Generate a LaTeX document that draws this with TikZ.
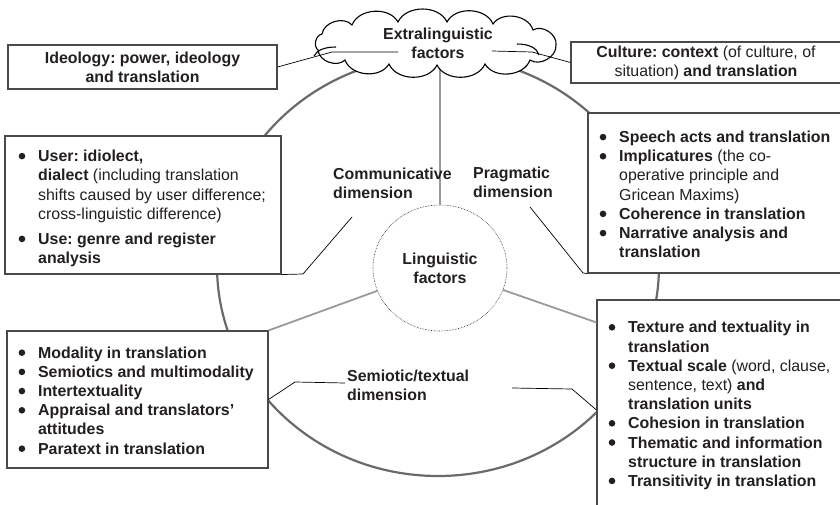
\documentclass[tikz,border=0pt]{standalone}
\usepackage{fontspec}
\setmainfont{Liberation Sans}
\usetikzlibrary{shapes.geometric}

\definecolor{txt}{HTML}{231F20}
\definecolor{boxline}{HTML}{4A4A4A}
\definecolor{arcgray}{HTML}{6A6A6A}
\definecolor{spokegray}{HTML}{9A9A9A}

% list helpers: bullet with hanging indent, and continuation indent
\newcommand\bul{\makebox[19.5pt][l]{\tikz[baseline={(0pt,-5.5pt)}]\fill[txt] (3.3pt,0pt) circle (3.3pt);}}
\newcommand\ind{\hspace*{19.5pt}}
\newcommand\rg[1]{{\mdseries #1}}
\frenchspacing

\begin{document}
\begin{tikzpicture}[x=1pt,y=-1pt,
  basefont/.style={font=\fontsize{15.9}{19.2}\selectfont\bfseries, text=txt},
  panel/.style={draw=boxline, line width=1.1pt, fill=white, rectangle, inner sep=0pt},
  topbox/.style={panel, basefont, align=center},
  listtext/.style={basefont, align=left, inner sep=0pt, anchor=west},
  dimlabel/.style={basefont, align=left, inner sep=0pt, anchor=west},
  spoke/.style={draw=spokegray, line width=1.8pt},
  callout/.style={draw=black, line width=0.7pt},
  cloudline/.style={draw=black, line width=1.1pt},
  puff/.style={bend left=65},
]
\useasboundingbox (0,0) rectangle (840,505);
\clip (0,0) rectangle (840,505);

% outer ring of the three dimensions
\node[ellipse, draw=arcgray, line width=2.2pt, minimum width=442pt, minimum height=420pt, inner sep=0pt] (dims) at (438,266) {};

% boxes around the ring
\node[panel, minimum width=276pt, minimum height=138pt] (comm) at (143,205) {};
\node[panel, minimum width=257pt, minimum height=160pt] (prag) at (716.5,193) {};
\node[panel, minimum width=261pt, minimum height=137pt] (semL) at (137.5,399.5) {};
\node[panel, minimum width=248pt, minimum height=210pt] (textual) at (721,405) {};
\coordinate (spokeR) at ([yshift=-23pt]textual.north west);

% inner circle
\node[ellipse, draw=txt, densely dotted, line width=0.6pt, minimum width=134pt, minimum height=126pt, inner sep=0pt, basefont, align=center] (ling) at (440,268) {Linguistic\\factors};

% spokes
\draw[spoke] (ling.north) -- (ling.north |- dims.north);
\draw[spoke] (ling) -- (semL.north east);
\draw[spoke] (ling) -- (spokeR);

% extralinguistic cloud, built from puffs between valley points
\filldraw[cloudline, fill=white]
  (322,34) to[puff] (352,25) to[puff] (398,22) to[puff] (447,22)
  to[puff] (493,24) to[puff] (533,30) to[puff] (556,45) to[puff] (530,60)
  to[puff] (485,64) to[puff] (437,65) to[puff] (389,64) to[puff] (345,60)
  to[puff] (318,50) to[puff] (322,34) -- cycle;
\draw[cloudline] (314,56) .. controls (317,50) and (325,47) .. (336,47);
\draw[cloudline] (517,44) .. controls (529,44) and (537,48) .. (539,55);
\node[basefont, align=center, inner sep=0pt] (extratext) at (438,43) {Extralinguistic\\factors};

\node[topbox, minimum width=269pt, minimum height=44pt] (ideo) at (142.5,67) {Ideology: power, ideology\\and translation};
\node[topbox, minimum width=270pt, minimum height=41pt] (cult) at (706,62.5) {Culture: context \rg{(of culture, of}\\\rg{situation)} and translation};

% list texts
\node[listtext] (commtext) at (18.5,208.5) {%
\bul User: idiolect,\\
\ind dialect \rg{(including translation}\\
\ind \rg{shifts caused by user difference;}\\
\ind \rg{cross-linguistic difference)}\\[6pt]
\bul Use: genre and register\\
\ind analysis};

\node[listtext] (pragtext) at (599.5,194.5) {%
\bul Speech acts and translation\\
\bul Implicatures \rg{(the co-}\\
\ind \rg{operative principle and}\\
\ind \rg{Gricean Maxims)}\\
\bul Coherence in translation\\
\bul Narrative analysis and\\
\ind translation};

\node[listtext] (textualtext) at (608.5,405.5) {%
\bul Texture and textuality in\\
\ind translation\\
\bul Textual scale \rg{(word, clause,}\\
\ind \rg{sentence, text)} and\\
\ind translation units\\
\bul Cohesion in translation\\
\bul Thematic and information\\
\ind structure in translation\\
\bul Transitivity in translation};

\node[listtext] (semtext) at (18.4,400.5) {%
\bul Modality in translation\\
\bul Semiotics and multimodality\\
\bul Intertextuality\\
\bul Appraisal and translators'\\
\ind attitudes\\
\bul Paratext in translation};

% dimension labels
\node[dimlabel] (commlabel) at (333,183) {Communicative\\dimension};
\node[dimlabel] (praglabel) at (473,182) {Pragmatic\\dimension};
\node[dimlabel] (semlabel) at (347,385) {Semiotic/textual\\dimension};

% callout lines
\coordinate (ideoA) at (332,52);
\coordinate (ideoB) at (398,52);
\draw[callout] (ideo.east) -- (ideoA) -- (ideoB);
\coordinate (cultA) at (532,52);
\coordinate (cultB) at (492,51);
\draw[callout] (cult.west) -- (cultA) -- (cultB);
\coordinate (commA) at (303,274);
\coordinate (commB) at (352,217);
\draw[callout] (comm.south east) -- (commA) -- (commB);
\coordinate (pragA) at (583,273);
\coordinate (pragB) at (530,207);
\draw[callout] (prag.south west) -- (pragA) -- (pragB);
\coordinate (semA) at (295,382);
\coordinate (semB) at (345,383);
\draw[callout] (semL.east) -- (semA) -- (semB);
\coordinate (semC) at (572,389);
\coordinate (semD) at (512,388);
\draw[callout] ([yshift=-5pt]textual.west) -- (semC) -- (semD);
\end{tikzpicture}
\end{document}
